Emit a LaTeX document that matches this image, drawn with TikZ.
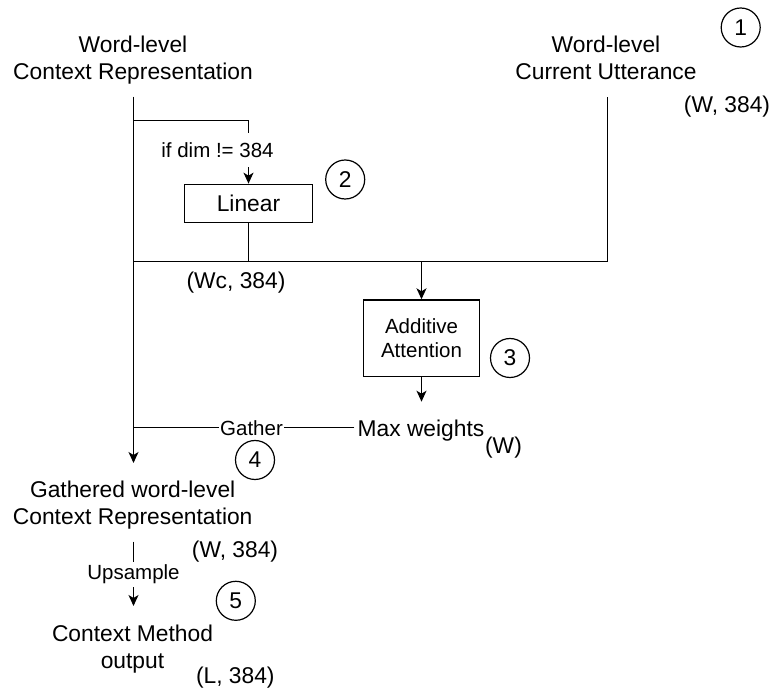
\documentclass[tikz,border=0pt]{standalone}
\usepackage{fontspec}
\setmainfont{Liberation Sans}
\usetikzlibrary{arrows.meta}
\begin{document}
\begin{tikzpicture}[x=1pt,y=-1pt,
  conn/.style={line width=1.3pt},
  arr/.style={conn,-{Stealth[length=11pt,width=10pt,inset=3pt]}},
  big/.style={font=\fontsize{22.8}{26.7}\selectfont,inner sep=0pt},
  small/.style={font=\fontsize{20.5}{24.4}\selectfont,inner sep=0pt},
  box/.style={draw,line width=1.3pt,align=center},
  num/.style={draw,circle,line width=1.2pt,minimum size=39pt,inner sep=0pt,
              font=\fontsize{22.8}{26}\selectfont},
  edgelbl/.style={small,fill=white}]
\useasboundingbox (0,0) rectangle (777,692);

% inputs
\node[big,align=center] (ctx) at (133,60) {Word-level\\Context Representation};
\node[big,align=center] (cur) at (606,57.7) {Word-level\\Current Utterance};
\node[num] (n1) at (740.7,27.5) {1};
\node[big] (dimcur) at (727,107) {(W, 384)};

% junction points
\coordinate (ctxtop) at (133.5,96.7);
\coordinate (curtop) at (607.5,96.7);
\coordinate (split) at (133.5,120.5);
\coordinate (mergeL) at (133.5,261.5);
\coordinate (mergeR) at (607.5,261.5);
\coordinate (mergemid) at (421.5,261.5);
\coordinate (gjoin) at (133.5,427.5);
\coordinate (gtop) at (133.5,463);
\coordinate (maxtop) at (421.5,401.7);
\coordinate (gbot) at (133.5,541.7);
\coordinate (otop) at (133.5,606);

% projection
\node[box,big,minimum width=128pt,minimum height=38.4pt] (lin) at (248.5,203.5) {Linear};
\node[num] (n2) at (345.2,179.5) {2};

% attention
\node[box,small,minimum width=116pt,minimum height=76.7pt] (att) at (421.5,338.3) {Additive\\Attention};
\node[num] (n3) at (510,358) {3};
\node[big,anchor=base,inner xsep=3pt] (maxw) at (421,436.5) {Max weights};
\node[big] (wsz) at (503.5,448) {(W)};

% outputs
\node[big,align=center] (gath) at (132.7,505.3) {Gathered word-level\\Context Representation};
\node[big] (wd2) at (235,551.7) {(W, 384)};
\node[num] (n4) at (255,460) {4};
\node[num] (n5) at (235.8,600.8) {5};
\node[big,align=center] (out) at (132.5,649.1) {Context Method\\output};
\node[big] (ld) at (235.3,678) {(L, 384)};
\node[big] (wc) at (236,283) {(Wc, 384)};

% connectors
\draw[arr] (ctxtop) -- (gtop);
\draw[arr] (split) -| (lin.north);
\draw[conn] (lin.south) -- (lin.south |- mergeL);
\draw[conn] (mergeL) -- (mergeR) -- (curtop);
\draw[arr] (mergemid) -- (att.north);
\draw[arr] (att.south) -- (maxtop);
\draw[conn] (maxw.west |- gjoin) -- (gjoin);
\draw[arr] (gbot) -- (otop);

% connector labels
\node[edgelbl,inner xsep=0pt,inner ysep=9.5pt] (ifdim) at (217.5,150) {if dim != 384};
\node[edgelbl,inner xsep=1.5pt,inner ysep=2pt] (gather) at (251.5,428) {Gather};
\node[edgelbl,inner xsep=1pt,inner ysep=2.5pt] (ups) at (133.5,574.5) {Upsample};
\end{tikzpicture}
\end{document}
